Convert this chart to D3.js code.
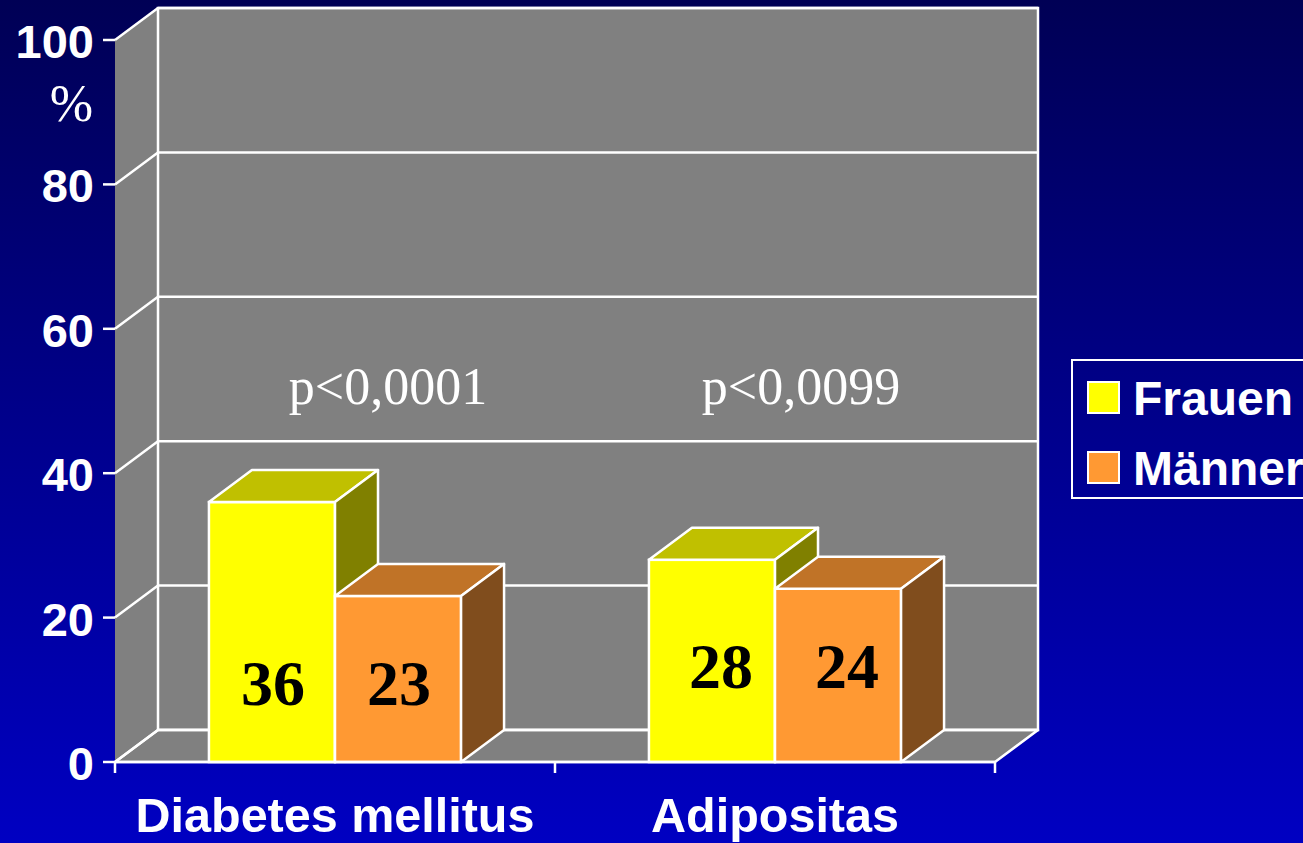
<!DOCTYPE html>
<html>
<head>
<meta charset="utf-8">
<script src="https://cdn.jsdelivr.net/npm/d3@7"></script>
<style>
  html, body { margin: 0; padding: 0; overflow: hidden; }
  body { width: 1303px; height: 843px; }
</style>
</head>
<body>
<div id="container"></div>
<script>
// DATA

const categories = ["Diabetes mellitus", "Adipositas"];
const seriesNames = ["Frauen", "Männer"];
const frauen = [36, 28];
const maenner = [23, 24];
const pValues = ["p<0,0001", "p<0,0099"];
const yTicks = [0, 20, 40, 60, 80, 100];

// VARIABLES

const width = 1303;
const height = 843;
const depthX = 43, depthY = -32;
const sans = "'Liberation Sans', Arial, Helvetica, sans-serif";
const serif = "'Liberation Serif', 'Times New Roman', Times, serif";

const fills = {
  Frauen: { front: "#ffff00", top: "#c0c000", side: "#808000" },
  "Männer": { front: "#ff9933", top: "#c07327", side: "#804d1d" }
};

// SCALES

const xScale = d3.scaleBand()
  .domain(categories)
  .range([115, 995]);

const groupW = xScale.bandwidth() * 0.573;
const xSub = d3.scaleBand()
  .domain(seriesNames)
  .range([(xScale.bandwidth() - groupW) / 2, (xScale.bandwidth() + groupW) / 2]);

const yScale = d3.scaleLinear()
  .domain([0, 100])
  .range([762, 40]);

const x0 = xScale.range()[0], x1 = xScale.range()[1];
const yBot = yScale(0), yTop = yScale(100);

// SVG

const svg = d3.select("#container")
  .append("svg")
  .attr("width", width)
  .attr("height", height);

const grad = svg.append("defs").append("linearGradient")
  .attr("id", "bg").attr("x1", 0).attr("y1", 0).attr("x2", 0).attr("y2", 1);
grad.append("stop").attr("offset", "0%").attr("stop-color", "#000055");
grad.append("stop").attr("offset", "100%").attr("stop-color", "#0000c2");

svg.append("rect")
  .attr("width", width).attr("height", height)
  .attr("fill", "url(#bg)");

// WALLS

const pts = p => p.map(d => d.join(",")).join(" ");

// left wall
svg.append("polygon")
  .attr("points", pts([[x0, yTop], [x0 + depthX, yTop + depthY], [x0 + depthX, yBot + depthY], [x0, yBot]]))
  .attr("fill", "#808080");

// back wall
svg.append("rect")
  .attr("x", x0 + depthX).attr("y", yTop + depthY)
  .attr("width", x1 - x0).attr("height", yBot - yTop)
  .attr("fill", "#808080")
  .attr("stroke", "white").attr("stroke-width", 2.5);

// floor
svg.append("polygon")
  .attr("points", pts([[x0, yBot], [x0 + depthX, yBot + depthY], [x1 + depthX, yBot + depthY], [x1, yBot]]))
  .attr("fill", "#808080")
  .attr("stroke", "white").attr("stroke-width", 2.5)
  .attr("stroke-linejoin", "round");

// gridlines
svg.selectAll(".grid")
  .data(yTicks)
  .join("line")
  .attr("class", "grid")
  .attr("x1", x0 + depthX).attr("x2", x1 + depthX)
  .attr("y1", d => yScale(d) + depthY).attr("y2", d => yScale(d) + depthY)
  .attr("stroke", "white").attr("stroke-width", 2.5);

svg.selectAll(".diag")
  .data(yTicks)
  .join("line")
  .attr("class", "diag")
  .attr("x1", x0).attr("x2", x0 + depthX)
  .attr("y1", d => yScale(d)).attr("y2", d => yScale(d) + depthY)
  .attr("stroke", "white").attr("stroke-width", 2.5);

// p-value annotations
const pShift = [53, 26];
svg.selectAll(".pval")
  .data(pValues)
  .join("text")
  .attr("class", "pval")
  .attr("x", (d, i) => xScale(categories[i]) + xScale.bandwidth() / 2 + pShift[i])
  .attr("y", 404)
  .attr("text-anchor", "middle")
  .attr("font-family", serif)
  .attr("font-size", 52)
  .attr("fill", "white")
  .text(d => d);

// BARS

const bars = [];
categories.forEach((c, i) => {
  bars.push({ cat: c, series: "Frauen", value: frauen[i], ci: i });
  bars.push({ cat: c, series: "Männer", value: maenner[i], ci: i });
});

const barG = svg.selectAll(".bar")
  .data(bars)
  .join("g")
  .attr("class", "bar");

barG.each(function(d) {
  const g = d3.select(this);
  const bx = xScale(d.cat) + xSub(d.series);
  const bw = xSub.bandwidth();
  const by = yScale(d.value);
  const f = fills[d.series];

  g.append("rect")
    .attr("x", bx).attr("y", by)
    .attr("width", bw).attr("height", yBot - by)
    .attr("fill", f.front)
    .attr("stroke", "white").attr("stroke-width", 2.5);

  g.append("polygon")
    .attr("points", pts([[bx, by], [bx + depthX, by + depthY], [bx + bw + depthX, by + depthY], [bx + bw, by]]))
    .attr("fill", f.top)
    .attr("stroke", "white").attr("stroke-width", 2.5).attr("stroke-linejoin", "round");

  g.append("polygon")
    .attr("points", pts([[bx + bw, by], [bx + bw + depthX, by + depthY], [bx + bw + depthX, yBot + depthY], [bx + bw, yBot]]))
    .attr("fill", f.side)
    .attr("stroke", "white").attr("stroke-width", 2.5).attr("stroke-linejoin", "round");
});

// value labels
const labelY = [705, 688];
svg.selectAll(".val")
  .data(bars)
  .join("text")
  .attr("class", "val")
  .attr("x", d => xScale(d.cat) + xSub(d.series) + xSub.bandwidth() / 2 + (d.ci === 1 ? 9 : 1))
  .attr("y", d => labelY[d.ci])
  .attr("text-anchor", "middle")
  .attr("font-family", serif)
  .attr("font-weight", "bold")
  .attr("font-size", 64)
  .attr("fill", "black")
  .text(d => d.value);

// AXES

// front bottom edge
svg.append("line")
  .attr("x1", x0).attr("x2", x1)
  .attr("y1", yBot).attr("y2", yBot)
  .attr("stroke", "white").attr("stroke-width", 2.5);

// y ticks
svg.selectAll(".ytick")
  .data(yTicks)
  .join("line")
  .attr("class", "ytick")
  .attr("x1", x0 - 12).attr("x2", x0)
  .attr("y1", d => yScale(d)).attr("y2", d => yScale(d))
  .attr("stroke", "white").attr("stroke-width", 2.5);

svg.selectAll(".ylab")
  .data(yTicks)
  .join("text")
  .attr("class", "ylab")
  .attr("x", 94)
  .attr("y", d => yScale(d) + 18)
  .attr("text-anchor", "end")
  .attr("font-family", sans)
  .attr("font-weight", "bold")
  .attr("font-size", 47)
  .attr("fill", "white")
  .text(d => d);

svg.append("text")
  .attr("x", 93).attr("y", 121)
  .attr("text-anchor", "end")
  .attr("font-family", serif)
  .attr("font-size", 52)
  .attr("fill", "white")
  .text("%");

// x ticks
const xTickPos = [x0, ...categories.map(c => xScale(c) + xScale.bandwidth())];
svg.selectAll(".xtick")
  .data(xTickPos)
  .join("line")
  .attr("class", "xtick")
  .attr("x1", d => d).attr("x2", d => d)
  .attr("y1", yBot).attr("y2", yBot + 11)
  .attr("stroke", "white").attr("stroke-width", 2.5);

svg.selectAll(".xlab")
  .data(categories)
  .join("text")
  .attr("class", "xlab")
  .attr("x", d => xScale(d) + xScale.bandwidth() / 2)
  .attr("y", 832)
  .attr("text-anchor", "middle")
  .attr("font-family", sans)
  .attr("font-weight", "bold")
  .attr("font-size", 48.5)
  .attr("fill", "white")
  .text(d => d);

// LEGEND

const legend = svg.append("g");
legend.append("rect")
  .attr("x", 1072).attr("y", 360)
  .attr("width", 250).attr("height", 138)
  .attr("fill", "none")
  .attr("stroke", "white").attr("stroke-width", 2);

const legItems = legend.selectAll(".leg")
  .data(seriesNames)
  .join("g")
  .attr("class", "leg")
  .attr("transform", (d, i) => `translate(0, ${i * 70})`);

legItems.append("rect")
  .attr("x", 1088).attr("y", 382)
  .attr("width", 31).attr("height", 31)
  .attr("fill", d => fills[d].front)
  .attr("stroke", "white").attr("stroke-width", 2);

legItems.append("text")
  .attr("x", 1133).attr("y", 415)
  .attr("font-family", sans)
  .attr("font-weight", "bold")
  .attr("font-size", 48)
  .attr("fill", "white")
  .text(d => d);
</script>
</body>
</html>
